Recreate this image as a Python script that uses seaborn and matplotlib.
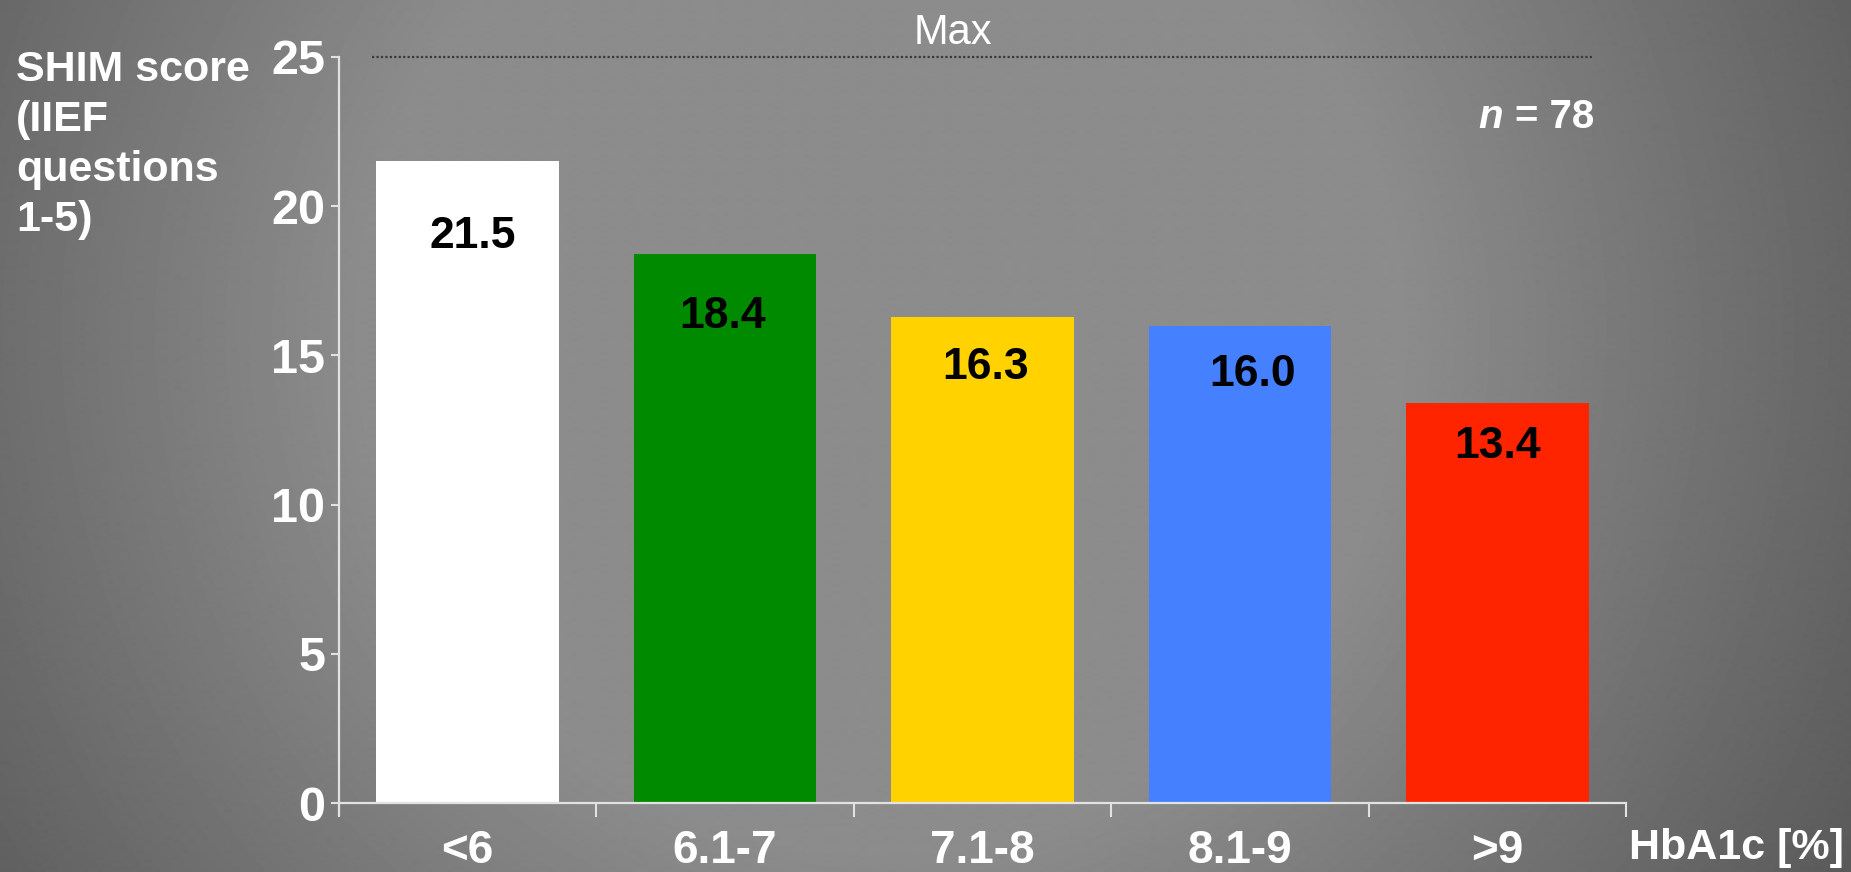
import numpy as np
import pandas as pd
import matplotlib
matplotlib.use("Agg")
import matplotlib.pyplot as plt
import seaborn as sns

# Data
categories = ["<6", "6.1-7", "7.1-8", "8.1-9", ">9"]
shim_scores = [21.5, 18.4, 16.3, 16.0, 13.4]
bar_colors = ["#ffffff", "#008a00", "#ffd200", "#4480ff", "#ff2400"]
y_ticks = [0, 5, 10, 15, 20, 25]
max_score = 25
n_label = "= 78"

# label placement (below bar top, data units)
label_drop = [2.5, 2.1, 1.7, 1.65, 1.45]
label_shift = [0.02, -0.01, 0.01, 0.05, 0.0]

sns.set_theme(style="white")
plt.rcParams["font.family"] = ["Liberation Sans", "DejaVu Sans"]
plt.rcParams["font.weight"] = "bold"

W, H = 1851, 872
fig = plt.figure(figsize=(W / 100, H / 100), dpi=100)

# radial grey background
bg = fig.add_axes([0, 0, 1, 1], zorder=-10)
yy, xx = np.mgrid[0:H, 0:W]
r = np.sqrt((xx - 880) ** 2 + (yy - 330) ** 2)
shade = 140 - 0.085 * np.clip(r - 520, 0, None)
shade = np.clip(shade, 82, 140) / 255.0
bg.imshow(shade, cmap="gray", vmin=0, vmax=1, aspect="auto", interpolation="bilinear")
bg.axis("off")

ax = fig.add_axes([339 / W, 1 - 815 / H, (1626 - 339) / W, 758 / H])
ax.patch.set_alpha(0)

df = pd.DataFrame({"HbA1c": categories, "SHIM": shim_scores})
sns.barplot(data=df, x="HbA1c", y="SHIM", hue="HbA1c", palette=bar_colors,
            width=0.71, legend=False, saturation=1, linewidth=0,
            edgecolor="none", ax=ax)

ax.set_xlim(-0.5, len(categories) - 0.5)
ax.set_ylim(-0.4, max_score)
ax.set_xlabel("")
ax.set_ylabel("")

for s in ["top", "right"]:
    ax.spines[s].set_visible(False)
spine_col = "#e2e2e2"
ax.spines["left"].set_color(spine_col)
ax.spines["bottom"].set_color(spine_col)
ax.spines["left"].set_linewidth(1.6)
ax.spines["bottom"].set_linewidth(1.6)
ax.spines["bottom"].set_position(("data", 0))

ax.set_yticks(y_ticks)
ax.set_yticklabels([str(t) for t in y_ticks])
ax.tick_params(axis="y", left=True, length=6, width=1.5, color=spine_col,
               pad=4, labelsize=35, labelcolor="white")

# category labels at centres, tick marks at boundaries
ax.set_xticks(range(len(categories)))
ax.set_xticklabels(categories)
ax.tick_params(axis="x", which="major", bottom=True, length=0, pad=19,
               labelsize=33, labelcolor="white")
ax.set_xticks(np.arange(len(categories) + 1) - 0.5, minor=True)
ax.tick_params(axis="x", which="minor", bottom=True, length=10, width=1.5,
               color=spine_col)

# value labels
for i, v in enumerate(shim_scores):
    ax.text(i + label_shift[i], v - label_drop[i], f"{v:.1f}", ha="center",
            va="center", fontsize=32, fontweight="bold", color="black")

# max line
ax.hlines(max_score, -0.37, 4.37, colors="#3a3a3a", linestyles=(0, (1, 1)),
          linewidth=1.6, clip_on=False)
ax.text(1.885, 25.8, "Max", ha="center", va="center", fontsize=30,
        fontweight="normal", color="white", clip_on=False,
        family=["Liberation Sans Narrow", "Liberation Sans"])

t = ax.text(4.376, 23.0, n_label, ha="right", va="center", fontsize=29,
            fontweight="bold", color="white")
ax.annotate("n ", xy=(0, 0), xycoords=t, ha="right", va="bottom",
            fontsize=29, fontweight="bold", fontstyle="italic", color="white")

fig.text(16 / W, 1 - 50 / H, "SHIM score\n(IIEF\nquestions\n1-5)", ha="left",
         va="top", fontsize=31, fontweight="bold", color="white", linespacing=1.32)
fig.text(1629 / W, 1 - 848 / H, "HbA1c [%]", ha="left", va="center",
         fontsize=31, fontweight="bold", color="white")

fig.savefig("out.png", dpi=100)
